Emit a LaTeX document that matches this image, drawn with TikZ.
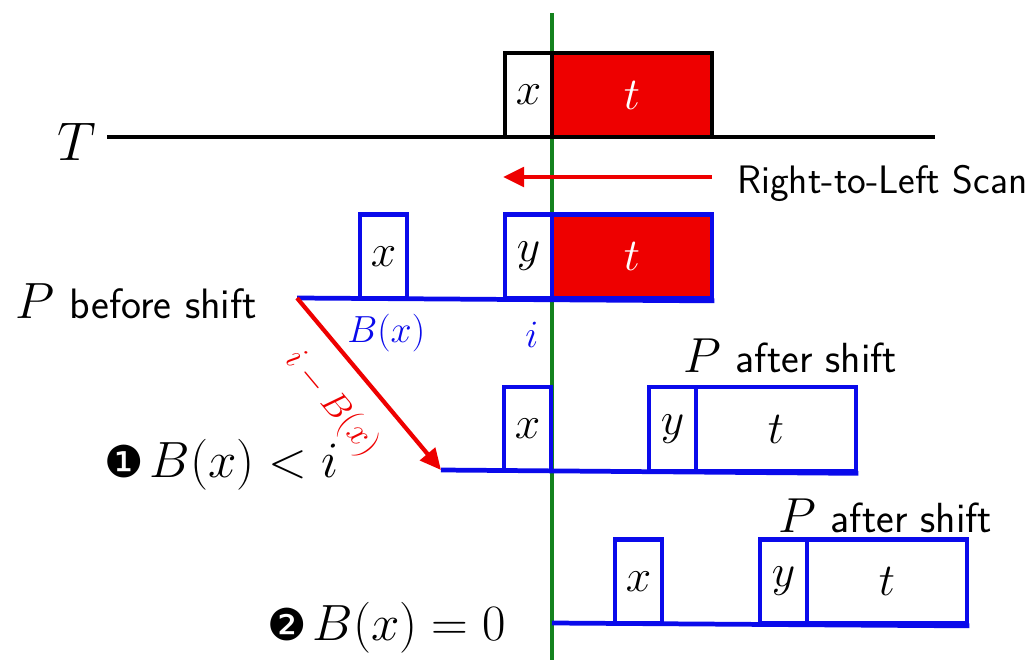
\RequirePackage{fix-cm}
\documentclass[tikz,border=0pt]{standalone}
\usepackage{fontspec}
\newfontfamily\djv{DejaVu Sans}
\usetikzlibrary{arrows.meta}
\definecolor{dgreen}{RGB}{20,130,30}
\definecolor{bblue}{RGB}{10,10,235}
\definecolor{rred}{RGB}{238,0,0}
\newcommand{\setfs}[1]{\fontsize{#1}{#1}\selectfont}
\begin{document}
\begin{tikzpicture}[x=0.02cm,y=-0.02cm,
  cell/.style={draw, line width=2.7pt, inner sep=0pt, minimum height=1.68cm, font=\setfs{26}},
  xcell/.style={cell, minimum width=0.94cm},
  tcell/.style={cell, minimum width=3.2cm},
  blk/.style={draw=black},
  blu/.style={draw=bblue},
  hot/.style={fill=rred, text=white},
  cold/.style={fill=white},
  baseln/.style={line width=2.7pt},
  redarrow/.style={draw=rred, line width=2.4pt, -{Triangle[length=12pt,width=11pt]}},
  lab/.style={inner sep=0pt, anchor=base west},
  greenln/.style={draw=dgreen, line width=2.2pt}
]
\useasboundingbox (0,0) rectangle (1029,660);

% green scan position line
\coordinate (gtop) at (552,13);
\coordinate (gbot) at (552,660);
\draw[greenln] (gtop) -- (gbot);

% text T
\node[lab] (Tlab) at (57,160) {\setfs{31}$T$};
\coordinate (Tstart) at (107,137);
\coordinate (Tend) at (935,137);
\draw[baseln, black] (Tstart) -- (Tend);
\node[xcell, blk, cold] (Tx) at (528.5,95) {$x$};
\node[tcell, blk, hot] (Tt) at (632,95) {$t$};

% scan arrow
\coordinate (scanR) at (712,177);
\coordinate (scanL) at (503,177);
\draw[redarrow] (scanR) -- (scanL);
\node[lab] (scanlab) at (737,193) {\sffamily\setfs{22.6}Right-to-Left Scan};

% P before shift
\node[lab] (P0lab) at (15,318) {\setfs{29}$P$ {\sffamily\setfs{24.2}before shift}};
\coordinate (s0) at (297,298);
\node[xcell, blu, cold] (P0x) at (383.5,256.5) {$x$};
\node[xcell, blu, cold] (P0y) at (528.5,256.5) {$y$};
\node[tcell, blu, hot] (P0t) at (632,256.5) {$t$};
\draw[baseln, bblue] (s0) -- (P0t.south east);
\node[lab, text=bblue] (Bx) at (347,342) {\setfs{21.5}$B(x)$};
\node[lab, text=bblue] (ilab) at (525,347) {\setfs{22}$i$};

% case 1
\coordinate (s1) at (441,470);
\draw[redarrow] (s0) -- node[sloped, below=9pt, pos=0.46, text=rred, font=\setfs{20}] (shiftlab) {$i-B(x)$} (s1);
\node[xcell, blu, cold] (P1x) at (527.5,429) {$x$};
\node[xcell, blu, cold] (P1y) at (672.5,429) {$y$};
\node[tcell, blu, cold] (P1t) at (776,429) {$t$};
\draw[baseln, bblue] (s1) -- (P1t.south east);
\node[lab] (P1lab) at (683,372) {\setfs{28}$P$ {\sffamily\setfs{24}after shift}};
\node[lab] (c1lab) at (104,477) {{\djv\setfs{25}❶} \setfs{29}$B(x)<i$};

% case 2
\coordinate (s2) at (552,623);
\node[xcell, blu, cold] (P2x) at (638.5,581.5) {$x$};
\node[xcell, blu, cold] (P2y) at (783.5,581.5) {$y$};
\node[tcell, blu, cold] (P2t) at (887,581.5) {$t$};
\draw[baseln, bblue] (s2) -- (P2t.south east);
\node[lab] (P2lab) at (778,532) {\setfs{28}$P$ {\sffamily\setfs{24}after shift}};
\node[lab] (c2lab) at (267,640) {{\djv\setfs{25}❷} \setfs{29}$B(x)=0$};
\end{tikzpicture}
\end{document}
